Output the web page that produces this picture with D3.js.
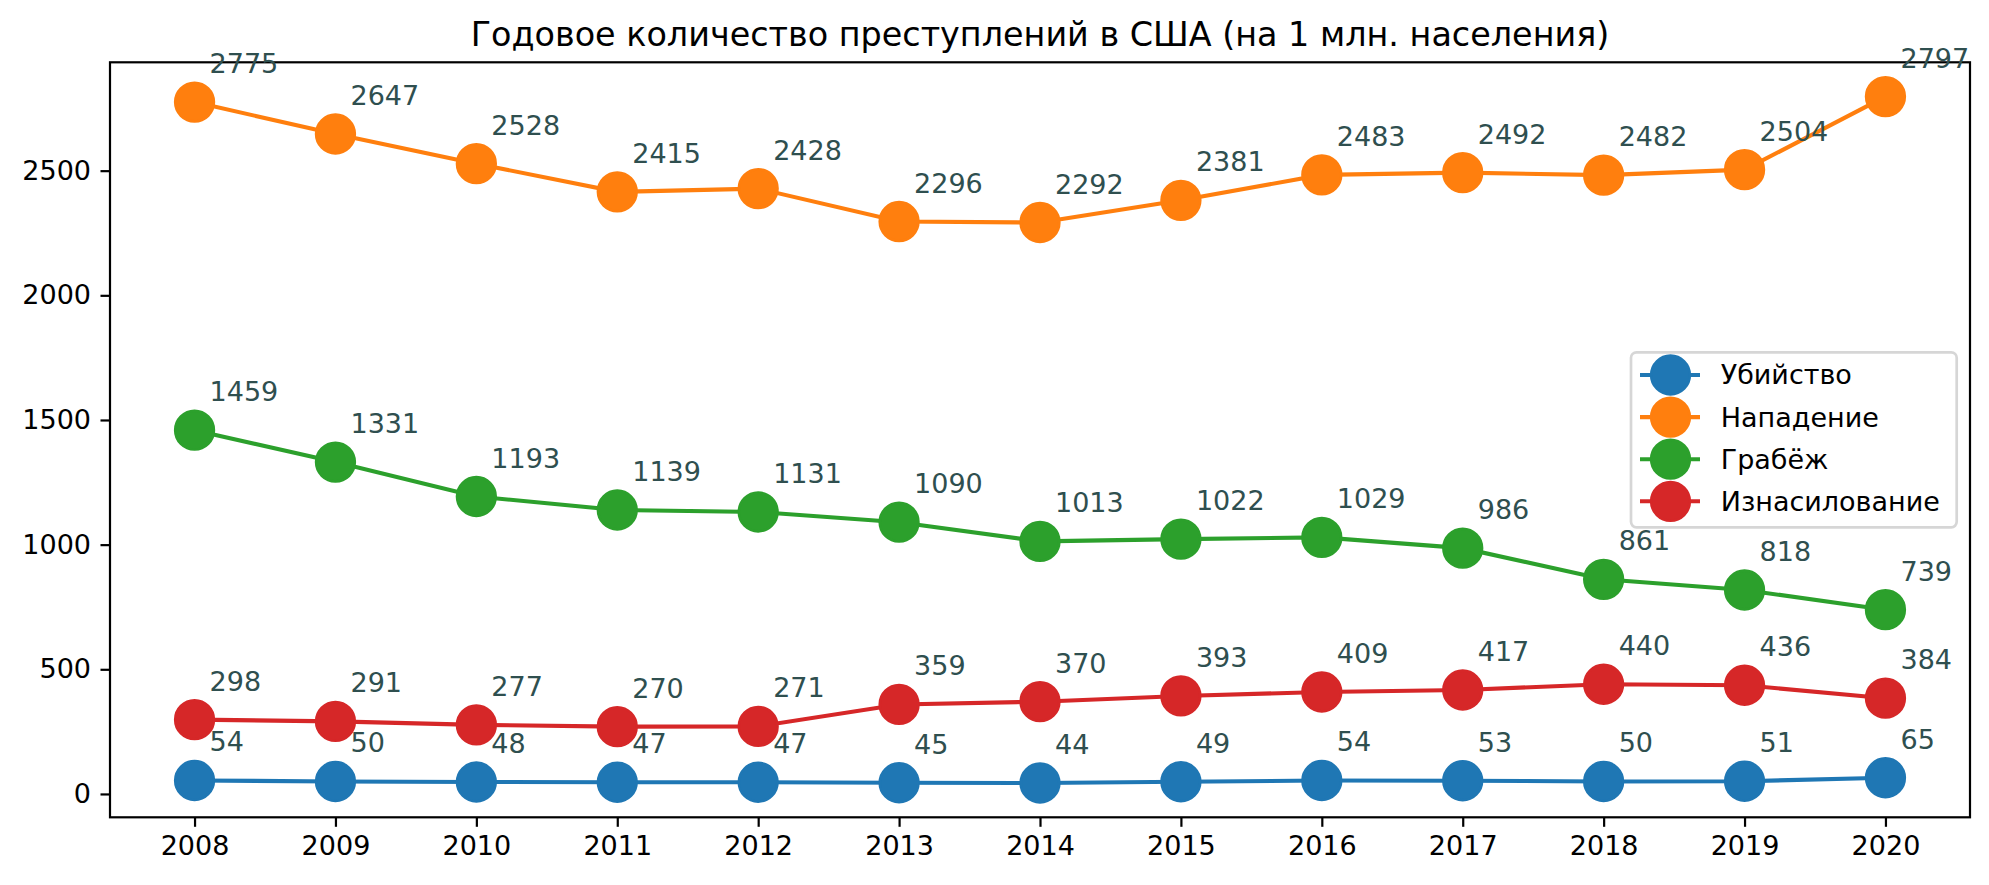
<!DOCTYPE html>
<html><head><meta charset="utf-8">
<script src="https://cdn.jsdelivr.net/npm/d3@7/dist/d3.min.js"></script>
<style>body{margin:0;background:#fff}svg{display:block}text{font-family:"DejaVu Sans",sans-serif}</style>
</head><body>
<svg id="c" width="1989" height="885"></svg>
<script>
const years = [2008,2009,2010,2011,2012,2013,2014,2015,2016,2017,2018,2019,2020];
const seriesNames = ["Убийство","Нападение","Грабёж","Изнасилование"];
const murder  = [54,50,48,47,47,45,44,49,54,53,50,51,65];
const assault = [2775,2647,2528,2415,2428,2296,2292,2381,2483,2492,2482,2504,2797];
const robbery = [1459,1331,1193,1139,1131,1090,1013,1022,1029,986,861,818,739];
const rape    = [298,291,277,270,271,359,370,393,409,417,440,436,384];
const colors  = ["#1f77b4","#ff7f0e","#2ca02c","#d62728"];
const yTicks  = [0,500,1000,1500,2000,2500];
const title   = "Годовое количество преступлений в США (на 1 млн. населения)";

const all = [murder,assault,robbery,rape];
const L=110, R=1970, T=62.3, B=817.3;
const svg=d3.select("#c");
const xr=d3.extent(years), xp=(xr[1]-xr[0])*0.05;
const x=d3.scaleLinear().domain([xr[0]-xp,xr[1]+xp]).range([L,R]);
const flat=all.flat(), ymin=d3.min(flat), ymax=d3.max(flat), yp=(ymax-ymin)*0.05;
const y=d3.scaleLinear().domain([ymin-yp,ymax+yp]).range([B,T]);

const fs=27;
// axes
const gx=svg.append("g").attr("transform",`translate(0,${B})`)
  .call(d3.axisBottom(x).tickValues(years).tickFormat(d3.format("d")).tickSize(9.5).tickPadding(9.5));
const gy=svg.append("g").attr("transform",`translate(${L},0)`)
  .call(d3.axisLeft(y).tickValues(yTicks).tickFormat(d3.format("d")).tickSize(9.5).tickPadding(9.5));
[gx,gy].forEach(g=>{g.select(".domain").remove();
  g.selectAll(".tick line").attr("stroke","#000").attr("stroke-width",2.2);
  g.selectAll(".tick text").attr("font-size",fs).attr("fill","#000").attr("font-family","DejaVu Sans");});

const line=d3.line().x((d,i)=>x(years[i])).y(d=>y(d));
all.forEach((vals,k)=>{
  const g=svg.append("g");
  g.append("path").attr("d",line(vals)).attr("fill","none").attr("stroke",colors[k]).attr("stroke-width",4.1);
  g.selectAll("circle").data(vals).join("circle")
    .attr("cx",(d,i)=>x(years[i])).attr("cy",d=>y(d)).attr("r",19.3)
    .attr("fill",colors[k]).attr("stroke",colors[k]).attr("stroke-width",2.7);
});
// frame
svg.append("rect").attr("x",L).attr("y",T).attr("width",R-L).attr("height",B-T)
  .attr("fill","none").attr("stroke","#000").attr("stroke-width",2.2);
// annotations
all.forEach((vals,k)=>{
  svg.append("g").selectAll("text").data(vals).join("text")
    .attr("x",(d,i)=>x(years[i])+15).attr("y",d=>y(d)-29)
    .attr("font-size",fs).attr("fill","#2f4f4f").text(d=>d);
});
// title
svg.append("text").attr("x",(L+R)/2).attr("y",46).attr("text-anchor","middle")
  .attr("font-size",33.4).attr("fill","#000").text(title);
// legend
const lg=svg.append("g");
lg.append("rect").attr("x",1631).attr("y",352.3).attr("width",325.7).attr("height",175)
  .attr("rx",5.5).attr("fill","#fff").attr("fill-opacity",0.8).attr("stroke","#d6d6d6").attr("stroke-width",2.7);
seriesNames.forEach((n,k)=>{
  const cy=375+k*42.1;
  lg.append("line").attr("x1",1640).attr("x2",1700).attr("y1",cy).attr("y2",cy).attr("stroke",colors[k]).attr("stroke-width",4.1);
  lg.append("circle").attr("cx",1670.5).attr("cy",cy).attr("r",19.3).attr("fill",colors[k]).attr("stroke",colors[k]).attr("stroke-width",2.7);
  lg.append("text").attr("x",1720.7).attr("y",cy).attr("dy","0.35em").attr("font-size",fs).attr("fill","#000").text(n);
});
</script>
</body></html>
